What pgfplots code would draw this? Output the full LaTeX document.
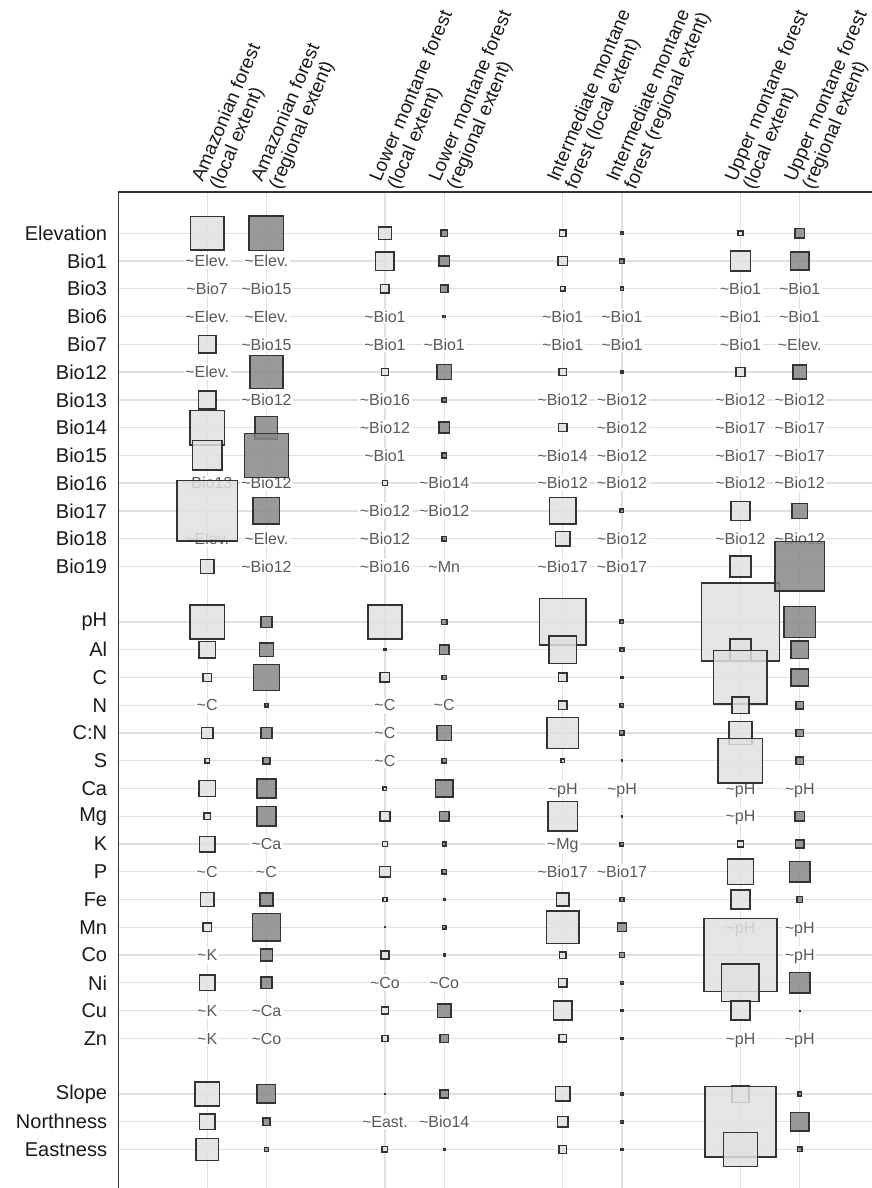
\documentclass[border=0pt]{standalone}
\usepackage{fontspec}
\setmainfont{Liberation Sans}
\usepackage{pgfplots}
\usepackage{pgfplotstable}
\pgfplotsset{compat=1.18}

\pgfplotstableread{
x y s
0 0 35
0 -4 19.3
0 -6 19.3
0 -7 36
0 -8 31
0 -10 62
0 -12 15.3
0 -14 35.7
0 -15 18.3
0 -16 9.7
0 -18 12.7
0 -19 6.3
0 -20 17.7
0 -21 8.3
0 -22 17
0 -24 15.3
0 -25 10
0 -27 16.7
0 -31 25.7
0 -32 17
0 -33 23.7
3 0 14.3
3 -1 20
3 -2 10
3 -5 8.3
3 -9 6.7
3 -14 35.3
3 -15 3.3
3 -16 11
3 -20 5
3 -21 11.3
3 -22 6.3
3 -23 12.3
3 -24 5.7
3 -25 2
3 -26 9.3
3 -28 8.7
3 -29 7.3
3 -31 2.3
3 -33 7
6 0 8
6 -1 10.7
6 -2 5.7
6 -5 8.7
6 -7 9.7
6 -10 28
6 -11 15.7
6 -14 48
6 -15 29.3
6 -16 10
6 -17 10
6 -18 32.7
6 -19 5
6 -21 30.7
6 -24 14.3
6 -25 34.3
6 -26 8
6 -27 10.3
6 -28 20.3
6 -29 9
6 -31 16
6 -32 12
6 -33 9.3
9 0 6.3
9 -1 21.3
9 -5 10.7
9 -10 20.7
9 -12 22.3
9 -14 79.7
9 -15 22.7
9 -16 55
9 -17 18.3
9 -18 24.7
9 -19 46
9 -22 7.3
9 -23 27.3
9 -24 20.7
9 -26 74.7
9 -27 39
9 -28 20.7
9 -31 18.7
9 -32 72.3
9 -33 35.3
}\localsq

\pgfplotstableread{
x y s
1 0 36
1 -5 34.7
1 -7 24
1 -8 45.7
1 -10 28
1 -14 12.7
1 -15 15.3
1 -16 27.3
1 -17 4.7
1 -18 12.3
1 -19 8.3
1 -20 20.7
1 -21 20.7
1 -24 14.3
1 -25 29.3
1 -26 13.3
1 -27 12.7
1 -31 20
1 -32 8.7
1 -33 5.3
4 0 8.3
4 -1 11.7
4 -2 9.3
4 -3 3.7
4 -5 16.3
4 -6 5.7
4 -7 12.3
4 -8 6.3
4 -11 6.3
4 -14 6.7
4 -15 10.7
4 -16 5.7
4 -18 16.3
4 -19 6
4 -20 18.7
4 -21 11.3
4 -22 5.3
4 -23 5.7
4 -24 3
4 -25 5
4 -26 3.3
4 -28 15
4 -29 9.7
4 -31 9.7
4 -33 2.7
7 0 4
7 -1 6
7 -2 4.7
7 -5 3.7
7 -10 5
7 -14 5
7 -15 5.3
7 -16 3.3
7 -17 5
7 -18 6
7 -19 2.7
7 -21 2.7
7 -22 5
7 -24 5.3
7 -25 10.3
7 -26 6.7
7 -27 4.3
7 -28 3.3
7 -29 3.3
7 -31 4
7 -32 4
7 -33 3.3
10 0 10.7
10 -1 19.7
10 -5 15.3
10 -10 16.7
10 -12 51
10 -14 32.7
10 -15 19.3
10 -16 18.7
10 -17 8.7
10 -18 8.7
10 -19 8.7
10 -21 10.7
10 -22 9.7
10 -23 22.3
10 -24 7.3
10 -27 22
10 -28 1.5
10 -31 5.3
10 -32 20.3
10 -33 6
}\regionalsq

\pgfplotstableread{
x y t
0 -1 Elev.
0 -2 Bio7
0 -3 Elev.
0 -5 Elev.
0 -9 Bio13
0 -11 Elev.
0 -17 C
0 -23 C
0 -26 K
0 -28 K
0 -29 K
1 -1 Elev.
1 -2 Bio15
1 -3 Elev.
1 -4 Bio15
1 -6 Bio12
1 -9 Bio12
1 -11 Elev.
1 -12 Bio12
1 -22 Ca
1 -23 C
1 -28 Ca
1 -29 Co
3 -3 Bio1
3 -4 Bio1
3 -6 Bio16
3 -7 Bio12
3 -8 Bio1
3 -10 Bio12
3 -11 Bio12
3 -12 Bio16
3 -17 C
3 -18 C
3 -19 C
3 -27 Co
3 -32 East.
4 -4 Bio1
4 -9 Bio14
4 -10 Bio12
4 -12 Mn
4 -17 C
4 -27 Co
4 -32 Bio14
6 -3 Bio1
6 -4 Bio1
6 -6 Bio12
6 -8 Bio14
6 -9 Bio12
6 -12 Bio17
6 -20 pH
6 -22 Mg
6 -23 Bio17
7 -3 Bio1
7 -4 Bio1
7 -6 Bio12
7 -7 Bio12
7 -8 Bio12
7 -9 Bio12
7 -11 Bio12
7 -12 Bio17
7 -20 pH
7 -23 Bio17
9 -2 Bio1
9 -3 Bio1
9 -4 Bio1
9 -6 Bio12
9 -7 Bio17
9 -8 Bio17
9 -9 Bio12
9 -11 Bio12
9 -20 pH
9 -21 pH
9 -25 pH
9 -29 pH
10 -2 Bio1
10 -3 Bio1
10 -4 Elev.
10 -6 Bio12
10 -7 Bio17
10 -8 Bio17
10 -9 Bio12
10 -11 Bio12
10 -20 pH
10 -25 pH
10 -26 pH
10 -29 pH
}\labeltab

\begin{document}
\begin{tikzpicture}
\begin{axis}[
  name=ax,
  scale only axis,
  width=753.7pt, height=996pt,
  xmin=-1.5, xmax=11.22,
  ymin=-34.39, ymax=1.488,
  clip=false,
  axis line style={draw=none},
  tick style={draw=none},
  xtick={0,1,3,4,6,7,9,10},
  xmajorticks=false,
  xmajorgrids=true,
  ymajorgrids=true,
  ytick={0,-1,-2,-3,-4,-5,-6,-7,-8,-9,-10,-11,-12,-14,-15,-16,-17,-18,-19,-20,-21,-22,-23,-24,-25,-26,-27,-28,-29,-31,-32,-33},
  yticklabels={Elevation,Bio1,Bio3,Bio6,Bio7,Bio12,Bio13,Bio14,Bio15,Bio16,Bio17,Bio18,Bio19,pH,Al,C,N,C:N,S,Ca,Mg,K,P,Fe,Mn,Co,Ni,Cu,Zn,Slope,Northness,Eastness},
  yticklabel style={font=\fontsize{20}{24}\selectfont, inner sep=0pt, text=black!90},
  yticklabel shift=11pt,
  major grid style={draw=black!12, line width=1.3pt},
]
% text labels (drawn beneath the squares)
\addplot[only marks, mark=none, point meta=explicit symbolic,
  nodes near coords={\textasciitilde\pgfplotspointmeta},
  nodes near coords style={anchor=center, fill=white, inner xsep=1.5pt, inner ysep=2pt,
    text=black!65, font=\fontsize{16}{19}\selectfont, text height=11.4pt, text depth=0pt}]
  table[x=x, y=y, meta=t] {\labeltab};
% local extent squares
\addplot[scatter, only marks, mark=square*,
  scatter/use mapped color={draw=black!80, fill=black!12},
  visualization depends on={max(\thisrow{s}/2-0.75,0.25) \as \msz},
  scatter/@pre marker code/.append style={/tikz/mark size=\msz},
  mark options={line width=1.5pt, fill opacity=0.85}]
  table[x=x, y=y] {\localsq};
% regional extent squares
\addplot[scatter, only marks, mark=square*,
  scatter/use mapped color={draw=black!80, fill=black!47},
  visualization depends on={max(\thisrow{s}/2-0.75,0.25) \as \msz},
  scatter/@pre marker code/.append style={/tikz/mark size=\msz},
  mark options={line width=1.5pt, fill opacity=0.85}]
  table[x=x, y=y] {\regionalsq};
% axis frame (left and top)
\draw[black!80, line width=1.2pt] (rel axis cs:0,0) -- (rel axis cs:0,1) -- (rel axis cs:1,1);
% column headers
\tikzset{hdr/.style={rotate=67, anchor=west, align=left, inner sep=0pt, font=\fontsize{19}{19.5}\selectfont, text=black!90}}
\node[hdr] at ([yshift=7pt]axis cs:0,1.488) {Amazonian forest\\(local extent)};
\node[hdr] at ([yshift=7pt]axis cs:1,1.488) {Amazonian forest\\(regional extent)};
\node[hdr] at ([yshift=7pt]axis cs:3,1.488) {Lower montane forest\\(local extent)};
\node[hdr] at ([yshift=7pt]axis cs:4,1.488) {Lower montane forest\\(regional extent)};
\node[hdr] at ([yshift=7pt]axis cs:6,1.488) {Intermediate montane\\forest (local extent)};
\node[hdr] at ([yshift=7pt]axis cs:7,1.488) {Intermediate montane\\forest (regional extent)};
\node[hdr] at ([yshift=7pt]axis cs:9,1.488) {Upper montane forest\\(local extent)};
\node[hdr] at ([yshift=7pt]axis cs:10,1.488) {Upper montane forest\\(regional extent)};
\end{axis}
\pgfresetboundingbox
\path[use as bounding box] ([xshift=-118.3pt, yshift=192pt]ax.north west) rectangle (ax.south east);
\end{tikzpicture}
\end{document}
